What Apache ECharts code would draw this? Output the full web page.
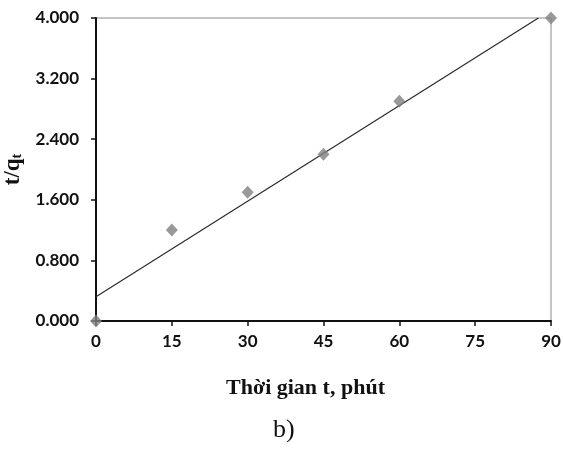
<!DOCTYPE html>
<html>
<head>
<meta charset="utf-8">
<script src="https://cdn.jsdelivr.net/npm/echarts@6/dist/echarts.min.js"></script>
<style>
  html, body { margin: 0; padding: 0; background: #fff; }
  #chart { width: 563px; height: 453px; }
</style>
</head>
<body>
<div id="chart"></div>
<script>
// Measured t/q_t against contact time
var timeMin = [0, 15, 30, 45, 60, 90];
var tOverQ = [0, 1.2, 1.7, 2.2, 2.9, 4.0];

// Linear fit endpoints (x, y)
var fitX = [0, 87.5];
var fitY = [0.32, 4.0];

// Axis ticks
var xTicks = [0, 15, 30, 45, 60, 75, 90];
var yTicks = [0, 0.8, 1.6, 2.4, 3.2, 4.0];

var chart = echarts.init(document.getElementById('chart'));

var scatterData = timeMin.map(function (t, i) { return [t, tOverQ[i]]; });
var fitData = fitX.map(function (x, i) { return [x, fitY[i]]; });

chart.setOption({
  backgroundColor: '#ffffff',
  animation: false,
  grid: {
    left: 96, right: 12, top: 18, bottom: 132,
    outerBoundsMode: 'none', containLabel: false,
    show: true, borderColor: '#8a8a8a', borderWidth: 1
  },
  xAxis: {
    type: 'value',
    min: xTicks[0],
    max: xTicks[xTicks.length - 1],
    interval: 15,
    splitLine: { show: false },
    axisLine: { lineStyle: { color: '#111', width: 2 } },
    axisTick: { show: true, length: 5, lineStyle: { color: '#111', width: 1.5 } },
    axisLabel: { color: '#111', fontFamily: 'Lato', fontWeight: 'bold', fontSize: 17, margin: 12 },
    name: 'Thời gian t, phút',
    nameLocation: 'middle',
    nameGap: 56,
    nameTextStyle: {
      color: '#111', fontFamily: 'Liberation Serif', fontWeight: 'bold', fontSize: 22,
      padding: [0, 36, 0, 0]
    }
  },
  yAxis: {
    type: 'value',
    min: yTicks[0],
    max: yTicks[yTicks.length - 1],
    interval: 0.8,
    splitLine: { show: false },
    axisLine: { lineStyle: { color: '#111', width: 2 } },
    axisTick: { show: true, length: 5, lineStyle: { color: '#111', width: 1.5 } },
    axisLabel: {
      color: '#111', fontFamily: 'Lato', fontWeight: 'bold', fontSize: 17, margin: 17,
      formatter: function (v) { return v.toFixed(3); }
    },
    name: '{a|t/q}{s|t}',
    nameLocation: 'middle',
    nameGap: 64,
    nameRotate: 90,
    nameTextStyle: {
      rich: {
        a: { color: '#111', fontFamily: 'Liberation Serif', fontWeight: 'bold', fontSize: 23 },
        s: { color: '#111', fontFamily: 'Liberation Serif', fontWeight: 'bold', fontSize: 14, verticalAlign: 'bottom', padding: [10, 0, 0, 0] }
      }
    }
  },
  graphic: [{
    type: 'text',
    left: 273,
    top: 417,
    style: { text: 'b)', fill: '#111', font: '26px "Liberation Serif"' }
  }],
  series: [
    {
      type: 'line',
      data: fitData,
      symbol: 'none',
      lineStyle: { color: '#2a2a2a', width: 1.2 },
      z: 2
    },
    {
      type: 'scatter',
      data: scatterData,
      symbol: 'diamond',
      symbolSize: [12, 13],
      itemStyle: { color: '#808080' },
      clip: false,
      z: 3
    }
  ]
});
</script>
</body>
</html>
